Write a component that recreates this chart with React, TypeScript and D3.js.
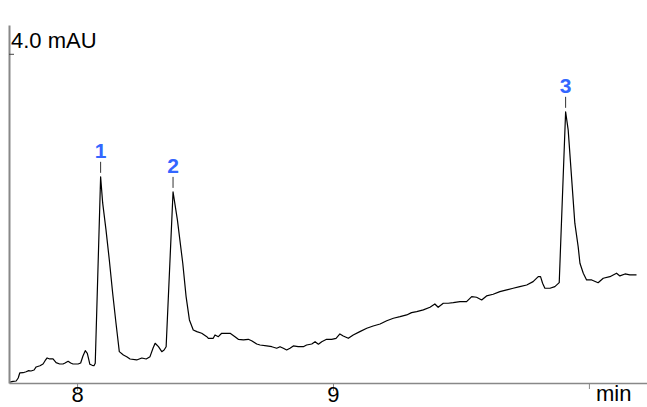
import React, { useEffect, useRef } from "react";
import * as d3 from "d3";

// retention time (min) and detector signal (mAU)
const retentionTimes = [
  7.737, 7.75, 7.762, 7.77, 7.776, 7.789, 7.801, 7.811, 7.82, 7.832, 7.84, 7.855,
  7.867, 7.875, 7.883, 7.893, 7.906, 7.918, 7.932, 7.945, 7.953, 7.965, 7.975, 7.984,
  8.004, 8.014, 8.023, 8.032, 8.04, 8.046, 8.05, 8.059, 8.066, 8.071, 8.092, 8.1,
  8.113, 8.126, 8.139, 8.152, 8.165, 8.181, 8.194, 8.207, 8.233, 8.253, 8.27, 8.285,
  8.297, 8.305, 8.318, 8.331, 8.34, 8.348, 8.375, 8.392, 8.413, 8.426, 8.439, 8.454,
  8.468, 8.487, 8.507, 8.513, 8.532, 8.539, 8.552, 8.565, 8.598, 8.617, 8.63, 8.65,
  8.669, 8.682, 8.702, 8.715, 8.741, 8.761, 8.78, 8.793, 8.806, 8.819, 8.832, 8.845,
  8.864, 8.884, 8.897, 8.917, 8.93, 8.943, 8.956, 8.975, 8.995, 9.012, 9.027, 9.04,
  9.06, 9.079, 9.105, 9.132, 9.157, 9.184, 9.21, 9.236, 9.262, 9.288, 9.307, 9.327,
  9.353, 9.379, 9.398, 9.411, 9.431, 9.45, 9.47, 9.496, 9.522, 9.542, 9.561, 9.581,
  9.6, 9.626, 9.652, 9.679, 9.704, 9.73, 9.757, 9.782, 9.802, 9.811, 9.819, 9.828,
  9.848, 9.867, 9.884, 9.909, 9.919, 9.932, 9.945, 9.958, 9.965, 9.978, 9.991, 10.011,
  10.036, 10.056, 10.082, 10.108, 10.121, 10.141, 10.16, 10.186,
];
const absorbance = [
  0.01, 0.02, 0.024, 0.061, 0.122, 0.125, 0.137, 0.15, 0.146, 0.158, 0.195, 0.21,
  0.231, 0.271, 0.304, 0.292, 0.292, 0.247, 0.231, 0.231, 0.243, 0.264, 0.243, 0.231,
  0.231, 0.243, 0.328, 0.393, 0.361, 0.28, 0.227, 0.215, 0.21, 0.24, 2.505, 2.188,
  1.86, 1.495, 1.094, 0.729, 0.381, 0.34, 0.32, 0.292, 0.28, 0.304, 0.292, 0.32,
  0.426, 0.483, 0.441, 0.381, 0.401, 0.441, 2.322, 1.982, 1.455, 1.049, 0.766, 0.644,
  0.624, 0.604, 0.563, 0.543, 0.543, 0.584, 0.563, 0.604, 0.604, 0.563, 0.531, 0.523,
  0.531, 0.514, 0.474, 0.462, 0.45, 0.441, 0.422, 0.441, 0.422, 0.401, 0.422, 0.45,
  0.441, 0.441, 0.462, 0.474, 0.502, 0.471, 0.502, 0.531, 0.531, 0.543, 0.596, 0.571,
  0.543, 0.584, 0.624, 0.665, 0.693, 0.717, 0.757, 0.787, 0.806, 0.827, 0.855, 0.867,
  0.888, 0.92, 0.96, 0.92, 0.969, 0.969, 0.976, 0.988, 0.988, 1.049, 1.042, 1.009,
  1.058, 1.078, 1.11, 1.131, 1.151, 1.171, 1.191, 1.232, 1.292, 1.292, 1.212, 1.151,
  1.151, 1.171, 1.219, 3.295, 3.076, 2.508, 1.942, 1.657, 1.455, 1.334, 1.252, 1.252,
  1.219, 1.273, 1.292, 1.334, 1.301, 1.325, 1.313, 1.313,
];

const peakNames = ["1", "2", "3"];
const peakTimes = [8.092, 8.375, 9.909];

const xTickValues = [8, 9, 10];
const xTickLabels = ["8", "9", ""];
const xUnit = "min";
const yTickValue = 4.0;
const yLabel = "4.0 mAU";

const App = () => {
  const svgRef = useRef<SVGSVGElement>(null);

  useEffect(() => {
    const svg = d3.select(svgRef.current);
    svg.selectAll("*").remove();

    const width = 647;
    const height = 407;
    const margin = { top: 25, right: 0, bottom: 24, left: 9 };
    const font = "'Liberation Sans', Arial, sans-serif";
    const axisColor = "#888";

    const x = d3
      .scaleLinear()
      .domain([7.734, 10.227])
      .range([margin.left, width - margin.right]);
    const y = d3
      .scaleLinear()
      .domain([0, 4.35])
      .range([height - margin.bottom, margin.top]);

    const points: [number, number][] = retentionTimes.map((t, i) => [t, absorbance[i]]);

    // trace
    const line = d3
      .line<[number, number]>()
      .x((d) => x(d[0]))
      .y((d) => y(d[1]));

    svg
      .append("path")
      .datum(points)
      .attr("fill", "none")
      .attr("stroke", "#000")
      .attr("stroke-width", 1.2)
      .attr("stroke-linejoin", "round")
      .attr("d", line);

    // x axis
    const xAxis = svg
      .append("g")
      .attr("transform", `translate(0,${height - margin.bottom})`)
      .call(
        d3
          .axisBottom(x)
          .tickValues(xTickValues)
          .tickSize(8)
          .tickSizeOuter(0)
          .tickFormat((d, i) => xTickLabels[i])
      );
    xAxis.select(".domain").attr("stroke", axisColor).attr("stroke-width", 1.5);
    xAxis.selectAll(".tick line").attr("stroke", axisColor);
    xAxis
      .selectAll(".tick line")
      .filter((d) => d === 10)
      .attr("y2", 6);
    xAxis
      .selectAll(".tick text")
      .attr("y", 19)
      .attr("dy", null)
      .attr("fill", "#000")
      .style("font-family", font)
      .style("font-size", "22px");

    svg
      .append("text")
      .attr("x", 596)
      .attr("y", 401)
      .style("font-family", font)
      .style("font-size", "22px")
      .text(xUnit);

    // y axis
    const yAxis = svg
      .append("g")
      .attr("transform", `translate(${margin.left},0)`)
      .call(
        d3
          .axisRight(y)
          .tickValues([yTickValue])
          .tickSize(5)
          .tickSizeOuter(0)
          .tickFormat(() => "")
      );
    yAxis.select(".domain").attr("stroke", axisColor).attr("stroke-width", 2);
    yAxis.selectAll(".tick line").attr("stroke", "#444");

    svg
      .append("text")
      .attr("x", 11)
      .attr("y", 48)
      .style("font-family", font)
      .style("font-size", "22px")
      .text(yLabel);

    // peak labels
    const peaks = peakNames.map((name, i) => {
      const idx = d3.minIndex(retentionTimes, (t) => Math.abs(t - peakTimes[i]));
      return { name, t: peakTimes[i], v: absorbance[idx] };
    });

    const peakG = svg
      .selectAll(".peak")
      .data(peaks)
      .enter()
      .append("g")
      .attr("class", "peak");

    peakG
      .append("line")
      .attr("x1", (d) => x(d.t))
      .attr("x2", (d) => x(d.t))
      .attr("y1", (d) => y(d.v) - 15)
      .attr("y2", (d) => y(d.v) - 4)
      .attr("stroke", "#333")
      .attr("stroke-width", 1);

    peakG
      .append("text")
      .attr("x", (d) => x(d.t))
      .attr("y", (d) => y(d.v) - 19)
      .attr("text-anchor", "middle")
      .attr("fill", "#3366ff")
      .style("font-family", font)
      .style("font-size", "21px")
      .style("font-weight", "bold")
      .text((d) => d.name);
  }, []);

  return (
    <svg
      ref={svgRef}
      width={647}
      height={407}
      style={{ position: "absolute", left: 0, top: 0 }}
    ></svg>
  );
};

export default App;
